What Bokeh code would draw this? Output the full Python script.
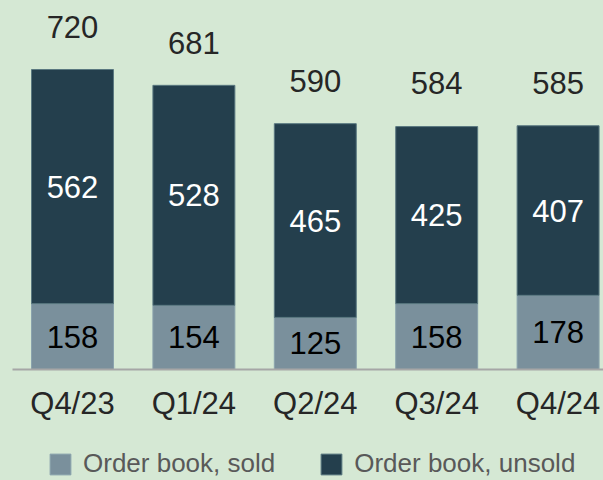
from bokeh.plotting import figure
from bokeh.models import Range1d, FixedTicker, Legend, LegendItem, ColumnDataSource
from bokeh.core.properties import value
from bokeh.embed import file_html
from bokeh.resources import INLINE

quarters = ["Q4/23", "Q1/24", "Q2/24", "Q3/24", "Q4/24"]
sold = [158, 154, 125, 158, 178]
unsold = [562, 528, 465, 425, 407]
totals = [720, 681, 590, 584, 585]

BG = "#d5e8d4"
SOLD = "#7a909c"
UNSOLD = "#243f4d"
FONT = "Liberation Sans"

xs = list(range(len(quarters)))
src = ColumnDataSource(dict(
    x=xs, sold=sold, unsold=unsold, total=totals,
    sold_mid=[s / 2 for s in sold],
    unsold_mid=[s + u / 2 for s, u in zip(sold, unsold)],
    sold_txt=[str(v) for v in sold],
    unsold_txt=[str(v) for v in unsold],
    total_txt=[str(v) for v in totals],
))

p = figure(width=603, height=480, output_backend="svg", toolbar_location=None,
           x_range=Range1d(-0.593, 4.374), y_range=Range1d(-266.4, 885.6),
           min_border_left=0, min_border_right=0, min_border_top=0, min_border_bottom=0,
           background_fill_color=BG, border_fill_color=BG, outline_line_color=None)
p.yaxis.visible = False
p.grid.visible = False

rs = p.vbar_stack(["sold", "unsold"], x="x", width=0.675, color=[SOLD, UNSOLD],
                  line_color=["#8aa3ad", "#5a7880"], line_width=1, source=src)

ax = p.xaxis[0]
ax.fixed_location = 0
ax.bounds = (-0.494, 4.374)
ax.ticker = FixedTicker(ticks=xs)
ax.major_label_overrides = {i: q for i, q in zip(xs, quarters)}
ax.axis_line_color = "#a6a6a6"
ax.axis_line_width = 2
ax.major_tick_line_color = None
ax.minor_tick_line_color = None
ax.major_label_standoff = 10
ax.major_label_text_font = FONT
ax.major_label_text_font_size = "31px"
ax.major_label_text_color = "#262626"

p.text(x="x", y="total", text="total_txt", source=src, text_align="center",
       text_baseline="alphabetic", y_offset=-43, text_font=value(FONT),
       text_font_size="31px", text_color="#262626")
p.text(x="x", y="unsold_mid", text="unsold_txt", source=src, text_align="center",
       text_baseline="middle", text_font=value(FONT),
       text_font_size="31px", text_color="#ffffff")
p.text(x="x", y="sold_mid", text="sold_txt", source=src, text_align="center",
       text_baseline="middle", text_font=value(FONT),
       text_font_size="31px", text_color="#000000")

legend = Legend(items=[LegendItem(label="Order book, sold", renderers=[rs[0]]),
                       LegendItem(label="Order book, unsold", renderers=[rs[1]])],
                location=(47, 1), orientation="horizontal",
                glyph_width=26, glyph_height=26, label_standoff=10, spacing=43,
                padding=0, margin=0, border_line_color=None, background_fill_alpha=0,
                label_text_font=FONT, label_text_font_size="26px",
                label_text_color="#595959")
p.add_layout(legend)

html = file_html(p, INLINE)
html = html.replace("<head>", "<head><style>body{background:%s}</style>" % BG, 1)
open("out.html", "w").write(html)
